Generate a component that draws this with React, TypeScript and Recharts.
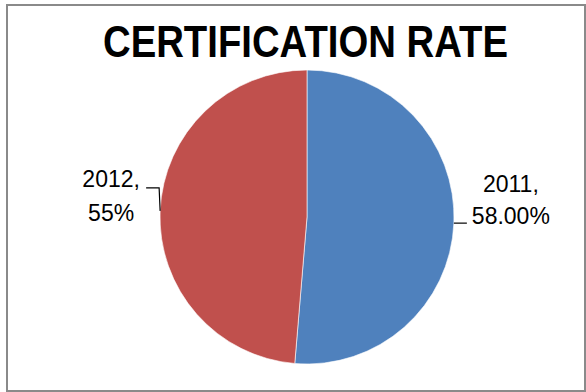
import { Cell, Pie, PieChart } from 'recharts';

const YEARS = ['2011', '2012'];
const RATES = [58, 55];
const RATE_LABELS = ['58.00%', '55%'];
const COLORS = ['#4F81BD', '#C0504D'];

const data = YEARS.map((year, i) => ({ name: year, value: RATES[i], label: RATE_LABELS[i] }));

const RADIAN = Math.PI / 180;
const FONT = '"Liberation Sans", Arial, sans-serif';

function renderLabel(props: any) {
  const { cx, cy, midAngle, outerRadius, index } = props;
  const ex = cx + outerRadius * Math.cos(-midAngle * RADIAN);
  const ey = cy + outerRadius * Math.sin(-midAngle * RADIAN);
  const row = data[index];
  const right = Math.cos(-midAngle * RADIAN) >= 0;

  if (right) {
    return (
      <g>
        <path d={`M${ex},${ey}H${ex + 13}`} stroke="#000" strokeWidth={1.2} fill="none" />
        <text x={ex + 57} y={ey - 31} textAnchor="middle" fontFamily={FONT} fontSize={23} fill="#000">
          {row.name},
        </text>
        <text x={ex + 57} y={ey + 1} textAnchor="middle" fontFamily={FONT} fontSize={23} fill="#000">
          {row.label}
        </text>
      </g>
    );
  }
  return (
    <g>
      <path
        d={`M${ex},${ey}L${ex - 1},${ey - 23}H${ex - 14}`}
        stroke="#000"
        strokeWidth={1.2}
        fill="none"
      />
      <text x={ex - 49} y={ey - 24} textAnchor="middle" fontFamily={FONT} fontSize={23} fill="#000">
        {row.name},
      </text>
      <text x={ex - 49} y={ey + 10} textAnchor="middle" fontFamily={FONT} fontSize={23} fill="#000">
        {row.label}
      </text>
    </g>
  );
}

export default function App() {
  return (
    <div
      style={{
        position: 'absolute',
        left: 6,
        top: 4,
        width: 580,
        height: 388,
        border: '2px solid #8a8a8a',
        boxSizing: 'border-box',
        background: '#fff',
      }}
    >
      <svg
        width={576}
        height={70}
        style={{ position: 'absolute', left: 0, top: 0, pointerEvents: 'none' }}
      >
        <text
          x={297.5}
          y={51}
          textAnchor="middle"
          fontFamily={FONT}
          fontWeight="bold"
          fontSize={44}
          textLength={405}
          lengthAdjust="spacingAndGlyphs"
          fill="#000"
        >
          CERTIFICATION RATE
        </text>
      </svg>
      <PieChart width={576} height={384} margin={{ top: 0, right: 0, bottom: 0, left: 0 }}>
        <Pie
          data={data}
          dataKey="value"
          nameKey="name"
          cx={299}
          cy={211}
          outerRadius={147}
          startAngle={90}
          endAngle={-270}
          stroke="#ffffff"
          strokeWidth={0.6}
          label={renderLabel}
          labelLine={false}
          isAnimationActive={false}
        >
          {data.map((d, i) => (
            <Cell key={d.name} fill={COLORS[i]} />
          ))}
        </Pie>
      </PieChart>
    </div>
  );
}
